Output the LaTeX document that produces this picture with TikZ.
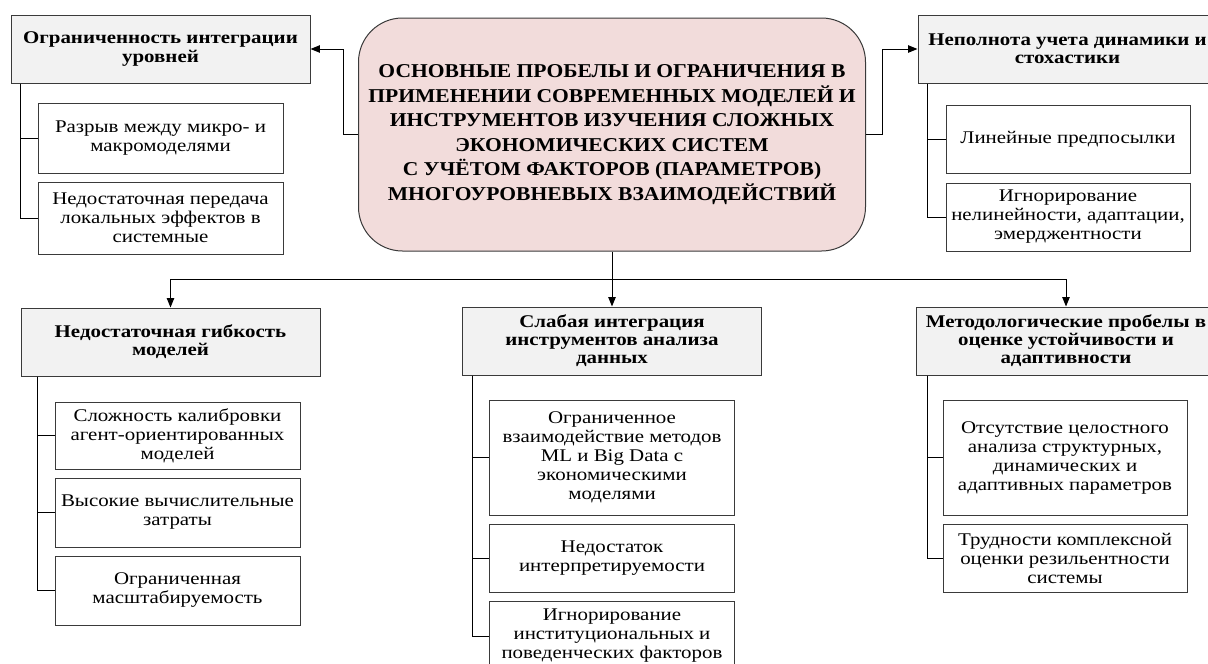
\documentclass[tikz,border=0pt]{standalone}
\usepackage{fontspec}
\setmainfont{Liberation Serif}[FakeStretch=1.17]
\newfontfamily\titlefont{Liberation Serif}[FakeStretch=1.1]
\usepackage{tikz}
\usetikzlibrary{arrows.meta}
\definecolor{headgray}{HTML}{F2F2F2}
\definecolor{mainpink}{HTML}{F2DCDB}
\definecolor{linegray}{HTML}{3A3A3A}
\setlength{\lineskiplimit}{-20pt}

\begin{document}
\begin{tikzpicture}[x=0.75pt,y=-0.75pt,line width=0.75pt,
  every node/.style={font=\fontsize{13.4}{14.25}\selectfont,align=center,inner sep=1pt},
  hdr/.style={draw=linegray,fill=headgray,font=\fontsize{13.4}{13.6}\selectfont\bfseries,
    minimum width=224.25pt,minimum height=51pt},
  item/.style={draw=linegray,fill=white,minimum width=183.75pt},
  arr/.style={-{Triangle[length=7pt,width=5.5pt]}}]
  \useasboundingbox (0,0) rectangle (1208,664);
  \clip (0,0) rectangle (1208,664);
  % central box
  \node[draw=linegray,fill=mainpink,rounded corners=33pt,minimum width=380.25pt,
    minimum height=174.75pt,font=\titlefont\fontsize{14.7}{18.4}\selectfont\bfseries] (main) at (612,134.5)
    {ОСНОВНЫЕ ПРОБЕЛЫ И ОГРАНИЧЕНИЯ В\\ПРИМЕНЕНИИ СОВРЕМЕННЫХ МОДЕЛЕЙ И\\
     ИНСТРУМЕНТОВ ИЗУЧЕНИЯ СЛОЖНЫХ\\ЭКОНОМИЧЕСКИХ СИСТЕМ\\
     С УЧЁТОМ ФАКТОРОВ (ПАРАМЕТРОВ)\\МНОГОУРОВНЕВЫХ ВЗАИМОДЕЙСТВИЙ};
  % headers
  \node[hdr] (hdA) at (160.5,49) {Ограниченность интеграции\\уровней};
  \node[hdr] (hdB) at (1067.5,49) {Неполнота учета динамики и\\стохастики};
  \node[hdr] (hdC) at (170.5,342) {Недостаточная гибкость\\моделей};
  \node[hdr] (hdD) at (612,341) {Слабая интеграция\\инструментов анализа\\данных};
  \node[hdr] (hdE) at (1066,341) {Методологические пробелы в\\оценке устойчивости и\\адаптивности};
  % items
  \node[item,minimum height=52.5pt] (aOne) at (160.5,138) {Разрыв между микро- и\\макромоделями};
  \node[item,minimum height=54pt] (aTwo) at (160.5,218) {Недостаточная передача\\локальных эффектов в\\системные};
  \node[item,minimum width=183pt,minimum height=51pt] (bOne) at (1068,139) {Линейные предпосылки};
  \node[item,minimum width=183pt,minimum height=51pt] (bTwo) at (1068,217) {Игнорирование\\нелинейности, адаптации,\\эмерджентности};
  \node[item,minimum height=50.25pt] (cOne) at (177.5,435.5) {Сложность калибровки\\агент-ориентированных\\моделей};
  \node[item,minimum height=51.75pt] (cTwo) at (177.5,512.5) {Высокие вычислительные\\затраты};
  \node[item,minimum height=51.75pt] (cThree) at (177.5,590.5) {Ограниченная\\масштабируемость};
  \node[item,minimum height=86.25pt] (dOne) at (612,457.5) {Ограниченное\\взаимодействие методов\\ML и Big Data с\\экономическими\\моделями};
  \node[item,minimum height=51pt] (dTwo) at (612,558) {Недостаток\\интерпретируемости};
  \node[item,minimum height=52.5pt] (dThree) at (612,636) {Игнорирование\\институциональных и\\поведенческих факторов};
  \node[item,minimum width=183pt,minimum height=86.25pt] (eOne) at (1065,457.5) {Отсутствие целостного\\анализа структурных,\\динамических и\\адаптивных параметров};
  \node[item,minimum width=183pt,minimum height=51pt] (eTwo) at (1065,558) {Трудности комплексной\\оценки резильентности\\системы};
  % arrows from the central box
  \draw[arr] (main.west) -- ++(-15,0) |- (hdA.east);
  \draw[arr] (main.east) -- ++(16,0) |- (hdB.west);
  \coordinate (split) at (612,279);
  \draw (main.south) -- (split);
  \draw[arr] (split) -| (hdC.north);
  \draw[arr] (split) -- (hdD.north);
  \draw[arr] (split) -| (hdE.north);
  % tree lines
  \draw ([xshift=7.3pt]hdA.south west) |- (aOne.west);
  \draw ([xshift=7.3pt]hdA.south west) |- (aTwo.west);
  \draw ([xshift=7.5pt]hdB.south west) |- (bOne.west);
  \draw ([xshift=7.5pt]hdB.south west) |- (bTwo.west);
  \draw ([xshift=12.75pt]hdC.south west) |- (cOne.west);
  \draw ([xshift=12.75pt]hdC.south west) |- (cTwo.west);
  \draw ([xshift=12.75pt]hdC.south west) |- (cThree.west);
  \draw ([xshift=7.5pt]hdD.south west) |- (dOne.west);
  \draw ([xshift=7.5pt]hdD.south west) |- (dTwo.west);
  \draw ([xshift=7.5pt]hdD.south west) |- (dThree.west);
  \draw ([xshift=8.25pt]hdE.south west) |- (eOne.west);
  \draw ([xshift=8.25pt]hdE.south west) |- (eTwo.west);
\end{tikzpicture}
\end{document}
